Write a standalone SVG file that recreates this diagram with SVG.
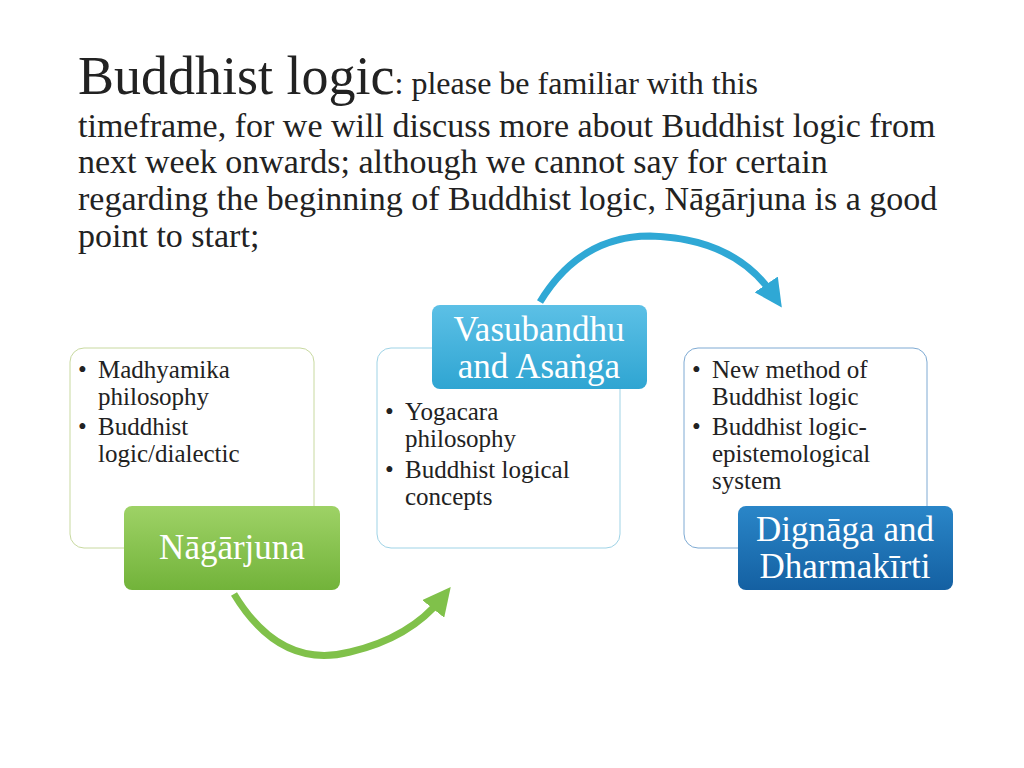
<svg xmlns="http://www.w3.org/2000/svg" width="1024" height="768" viewBox="0 0 1024 768">
<defs>
<style>
text{font-family:"Liberation Serif","Times New Roman",serif;fill:#222}
.t{font-size:34px}
.b{font-size:25px}
.lab{font-size:35px;fill:#fff;text-anchor:middle}
.box{fill:#fff;stroke-width:1}
</style>
<linearGradient id="gg" x1="0" y1="0" x2="0" y2="1"><stop offset="0" stop-color="#9ed266"/><stop offset="1" stop-color="#72b33a"/></linearGradient>
<linearGradient id="gb" x1="0" y1="0" x2="0" y2="1"><stop offset="0" stop-color="#5cc0e6"/><stop offset="1" stop-color="#2fa5d2"/></linearGradient>
<linearGradient id="gd" x1="0" y1="0" x2="0" y2="1"><stop offset="0" stop-color="#2a86c8"/><stop offset="1" stop-color="#1460a2"/></linearGradient>
<marker id="ag" markerWidth="4" markerHeight="4" refX="2" refY="2" orient="auto" markerUnits="strokeWidth"><path d="M0,0L4,2L0,4z" fill="#80c14a"/></marker>
<marker id="ab" markerWidth="4" markerHeight="4" refX="2" refY="2" orient="auto" markerUnits="strokeWidth"><path d="M0,0L4,2L0,4z" fill="#2fa8d5"/></marker>
</defs>
<rect width="1024" height="768" fill="#fff"/>
<g id="title">
<text x="78" y="94"><tspan font-size="54">Buddhist logic</tspan><tspan font-size="32">: please be familiar with this</tspan></text>
<text class="t" x="78" y="137">timeframe, for we will discuss more about Buddhist logic from</text>
<text class="t" x="78" y="173">next week onwards; although we cannot say for certain</text>
<text class="t" x="78" y="210">regarding the beginning of Buddhist logic, Nāgārjuna is a good</text>
<text class="t" x="78" y="247">point to start;</text>
</g>
<g id="connectors" fill="none" stroke-width="7">
<path d="M234,594 Q280,670 350,652 Q410,638 442,598" stroke="#80c14a" marker-end="url(#ag)"/>
<path d="M540,302 Q580,236 650,236 Q735,238 774,296" stroke="#2fa8d5" marker-end="url(#ab)"/>
</g>
<g id="box1">
<rect class="box" x="70" y="348" width="244" height="200" rx="14" stroke="#c8d9a0"/>
<text class="b" x="78" y="378">•</text><text class="b" x="98" y="378">Madhyamika</text>
<text class="b" x="98" y="405">philosophy</text>
<text class="b" x="78" y="435">•</text><text class="b" x="98" y="435">Buddhist</text>
<text class="b" x="98" y="462">logic/dialectic</text>
</g>
<g id="box2">
<rect class="box" x="377" y="348" width="243" height="200" rx="14" stroke="#9fd3e6"/>
<text class="b" x="385" y="420">•</text><text class="b" x="405" y="420">Yogacara</text>
<text class="b" x="405" y="447">philosophy</text>
<text class="b" x="385" y="478">•</text><text class="b" x="405" y="478">Buddhist logical</text>
<text class="b" x="405" y="505">concepts</text>
</g>
<g id="box3">
<rect class="box" x="684" y="348" width="243" height="200" rx="14" stroke="#7eaad3"/>
<text class="b" x="692" y="378">•</text><text class="b" x="712" y="378">New method of</text>
<text class="b" x="712" y="405">Buddhist logic</text>
<text class="b" x="692" y="435">•</text><text class="b" x="712" y="435">Buddhist logic-</text>
<text class="b" x="712" y="462">epistemological</text>
<text class="b" x="712" y="489">system</text>
</g>
<g id="nagarjuna">
<rect x="124" y="506" width="216" height="84" rx="8" fill="url(#gg)"/>
<text class="lab" x="232" y="559">Nāgārjuna</text>
</g>
<g id="vasubandhu">
<rect x="432" y="305" width="215" height="84" rx="8" fill="url(#gb)"/>
<text class="lab" x="539" y="341">Vasubandhu</text>
<text class="lab" x="539" y="378">and Asaṅga</text>
</g>
<g id="dignaga">
<rect x="738" y="506" width="215" height="84" rx="8" fill="url(#gd)"/>
<text class="lab" x="845" y="541">Dignāga and</text>
<text class="lab" x="845" y="578">Dharmakīrti</text>
</g>
</svg>
